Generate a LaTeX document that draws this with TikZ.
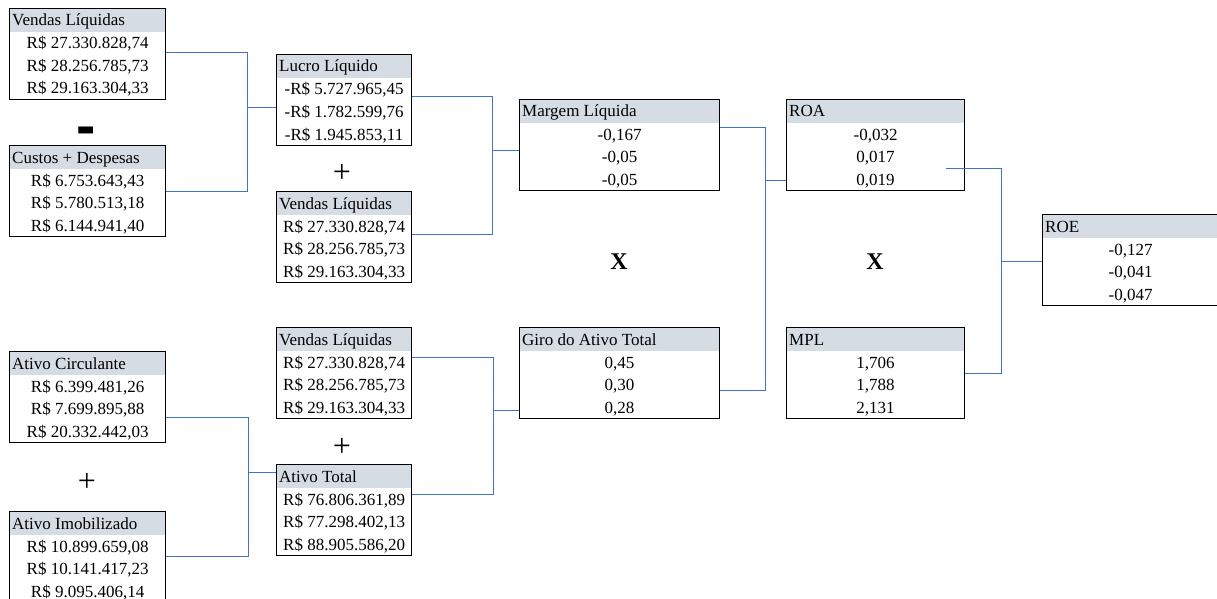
\documentclass[tikz,border=0pt]{standalone}
\usepackage{fontspec}
\setmainfont{Liberation Serif}
\newfontfamily\opfont{Liberation Sans}
\definecolor{conncol}{RGB}{68,114,196}
\definecolor{hdrcol}{RGB}{214,220,228}
\tikzset{
  tbl/.style={draw=black, line width=1.2pt, minimum height=91pt, inner sep=0pt, anchor=north west,
    path picture={\fill[hdrcol] (path picture bounding box.north west) rectangle ([yshift=-23pt]path picture bounding box.north east);}},
  hdr/.style={anchor=base west, inner sep=0pt, font=\fontsize{17}{20}\selectfont},
  val/.style={anchor=base, inner sep=0pt, font=\fontsize{17}{20}\selectfont},
  conn/.style={draw=conncol, line width=0.9pt},
  minussign/.style={inner sep=0pt, text height=0pt, text depth=0pt, font=\opfont\bfseries\fontsize{58}{58}\selectfont},
  plussign/.style={inner sep=0pt, font=\fontsize{32}{32}\selectfont},
  timessign/.style={inner sep=0pt, font=\bfseries\fontsize{24}{24}\selectfont}
}
\newcommand{\tabela}[8]{%
  \node[tbl, minimum width=#4pt] (#1) at (#2,#3) {};
  \node[hdr] (#1h) at ([xshift=3pt,yshift=-18pt]#1.north west) {#5};
  \node[val] (#1a) at ([yshift=-41pt]#1.north) {#6};
  \node[val] (#1b) at ([yshift=-63.5pt]#1.north) {#7};
  \node[val] (#1c) at ([yshift=-86pt]#1.north) {#8};
}
\begin{document}
\begin{tikzpicture}[x=1pt,y=-1pt]
\useasboundingbox (0,0) rectangle (1217,599);
\clip (0,0) rectangle (1217,599);

% boxes
\tabela{vlA}{9}{8}{156}{Vendas Líquidas}{R\$ 27.330.828,74}{R\$ 28.256.785,73}{R\$ 29.163.304,33}
\tabela{cd}{9}{145}{156}{Custos + Despesas}{R\$ 6.753.643,43}{R\$ 5.780.513,18}{R\$ 6.144.941,40}
\tabela{ac}{9}{351}{156}{Ativo Circulante}{R\$ 6.399.481,26}{R\$ 7.699.895,88}{R\$ 20.332.442,03}
\tabela{ai}{9}{511}{156}{Ativo Imobilizado}{R\$ 10.899.659,08}{R\$ 10.141.417,23}{R\$ 9.095.406,14}
\tabela{ll}{276}{54}{135}{Lucro Líquido}{-R\$ 5.727.965,45}{-R\$ 1.782.599,76}{-R\$ 1.945.853,11}
\tabela{vlB}{276}{191}{135}{Vendas Líquidas}{R\$ 27.330.828,74}{R\$ 28.256.785,73}{R\$ 29.163.304,33}
\tabela{vlC}{276}{327}{135}{Vendas Líquidas}{R\$ 27.330.828,74}{R\$ 28.256.785,73}{R\$ 29.163.304,33}
\tabela{atot}{276}{464}{135}{Ativo Total}{R\$ 76.806.361,89}{R\$ 77.298.402,13}{R\$ 88.905.586,20}
\tabela{ml}{519}{99}{200}{Margem Líquida}{-0,167}{-0,05}{-0,05}
\tabela{ga}{519}{327}{200}{Giro do Ativo Total}{0,45}{0,30}{0,28}
\tabela{roa}{786}{99}{178}{ROA}{-0,032}{0,017}{0,019}
\tabela{mpl}{786}{327}{178}{MPL}{1,706}{1,788}{2,131}
\tabela{roe}{1042}{214}{176}{ROE}{-0,127}{-0,041}{-0,047}

% operators
\node[minussign] (op1) at (86,145) {-};
\node[plussign] (op2) at (342,173) {+};
\node[plussign] (op3) at (342,447) {+};
\node[plussign] (op4) at (87,482) {+};
\node[timessign] (op5) at (619,262) {X};
\node[timessign] (op6) at (875,262) {X};

% connectors
\coordinate (j1) at (247,107);
\draw[conn] ([yshift=-44pt]vlA.north east) -| (j1);
\draw[conn] ([yshift=-46pt]cd.north east) -| (j1);
\draw[conn] (j1) -- (j1 -| ll.west);

\coordinate (j2) at (492,150);
\draw[conn] ([yshift=-42pt]ll.north east) -| (j2);
\draw[conn] ([yshift=-43pt]vlB.north east) -| (j2);
\draw[conn] (j2) -- (j2 -| ml.west);

\coordinate (j3) at (765,180);
\draw[conn] ([yshift=-28pt]ml.north east) -| (j3);
\draw[conn] ([yshift=-63pt]ga.north east) -| (j3);
\draw[conn] (j3) -- (j3 -| roa.west);

\coordinate (j4) at (1001,261);
\draw[conn] ([xshift=-19pt,yshift=-69pt]roa.north east) -| (j4);
\draw[conn] ([yshift=-46pt]mpl.north east) -| (j4);
\draw[conn] (j4) -- (j4 -| roe.west);

\coordinate (j5) at (248,472);
\draw[conn] ([yshift=-66pt]ac.north east) -| (j5);
\draw[conn] ([yshift=-45pt]ai.north east) -| (j5);
\draw[conn] (j5) -- (j5 -| atot.west);

\coordinate (j6) at (493,410);
\draw[conn] ([yshift=-30pt]vlC.north east) -| (j6);
\draw[conn] ([yshift=-30pt]atot.north east) -| (j6);
\draw[conn] (j6) -- (j6 -| ga.west);
\end{tikzpicture}
\end{document}
